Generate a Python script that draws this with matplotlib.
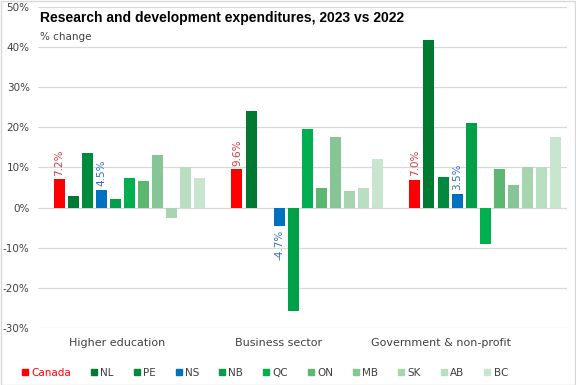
import matplotlib
matplotlib.use("Agg")
import matplotlib.pyplot as plt
from matplotlib.patches import Rectangle
from matplotlib.lines import Line2D
import numpy as np

sectors = ["Higher education", "Business sector", "Government & non-profit"]
regions = ["Canada", "NL", "PE", "NS", "NB", "QC", "ON", "MB", "SK", "AB", "BC"]
colors = ["#FF0000", "#007A33", "#008A3E", "#0070C0", "#00A04A", "#00B050",
          "#5CB870", "#86C696", "#A6D5B0", "#B8DFC2", "#C8E6CF"]

# % change by region, one list per sector
higher_ed = [7.2, 3.0, 13.7, 4.5, 2.2, 7.5, 6.7, 13.0, -2.7, 10.2, 7.5]
business = [9.6, 24.0, 0.0, -4.7, -25.7, 19.7, 5.0, 17.7, 4.2, 5.0, 12.0]
government = [7.0, 41.7, 7.7, 3.5, 21.0, -9.0, 9.5, 5.7, 10.2, 10.2, 17.5]

labelled = {"Canada": "#D0393B", "NS": "#2F6EBA"}

values = np.array([higher_ed, business, government])

fig = plt.figure(figsize=(5.76, 3.85), dpi=100)
ax = fig.add_axes([0.066, 0.148, 0.918, 0.834])

slot = 0.0792
width = 0.0618
x = np.arange(len(sectors))
for j, reg in enumerate(regions):
    pos = x + (j - 5) * slot
    ax.bar(pos, values[:, j], width=width, color=colors[j], zorder=3)
    if reg in labelled:
        for p, v in zip(pos, values[:, j]):
            off = 0.8 if v >= 0 else -0.8
            ax.text(p, v + off, f"{v:.1f}%", rotation=90, ha="center",
                    va="bottom" if v >= 0 else "top", fontsize=7.5,
                    color=labelled[reg])

ax.set_xlim(-0.514, 2.458)
ax.set_ylim(-30, 50)
ax.set_yticks(range(-30, 51, 10))
ax.set_yticklabels([f"{t}%" for t in range(-30, 51, 10)], fontsize=7.5,
                   color="#404040")
# category labels sit a bit left of the bar groups, like the original
ax.set_xticks(x * 0.91 - 0.07)
ax.set_xticklabels(sectors, fontsize=8, color="#404040")
ax.tick_params(axis="both", length=0)
ax.tick_params(axis="x", pad=7)
ax.tick_params(axis="y", pad=6)
ax.grid(axis="y", color="#D9D9D9", linewidth=0.9, zorder=0)
for s in ax.spines.values():
    s.set_visible(False)

fig.text(0.07, 0.952, "Research and development expenditures, 2023 vs 2022",
         fontsize=10, fontweight="bold", va="center", family="Liberation Sans")
fig.text(0.07, 0.903, "% change", fontsize=7.5, va="center", color="#404040")

handles = [Line2D([], [], marker="s", linestyle="", color=c, markersize=5)
           for c in colors]
leg = fig.legend(handles, regions, loc="center", bbox_to_anchor=(0.46, 0.031),
                 ncol=11, frameon=False, fontsize=7.5, handlelength=0.6,
                 handletextpad=0.3, columnspacing=1.9)
for t in leg.get_texts():
    t.set_color("#404040")
leg.get_texts()[0].set_color("#FF0000")

fig.patches.append(Rectangle((0.001, 0.001), 0.997, 0.997, transform=fig.transFigure,
                             fill=False, edgecolor="#D9D9D9", linewidth=1))

fig.savefig("out.png", dpi=100)
